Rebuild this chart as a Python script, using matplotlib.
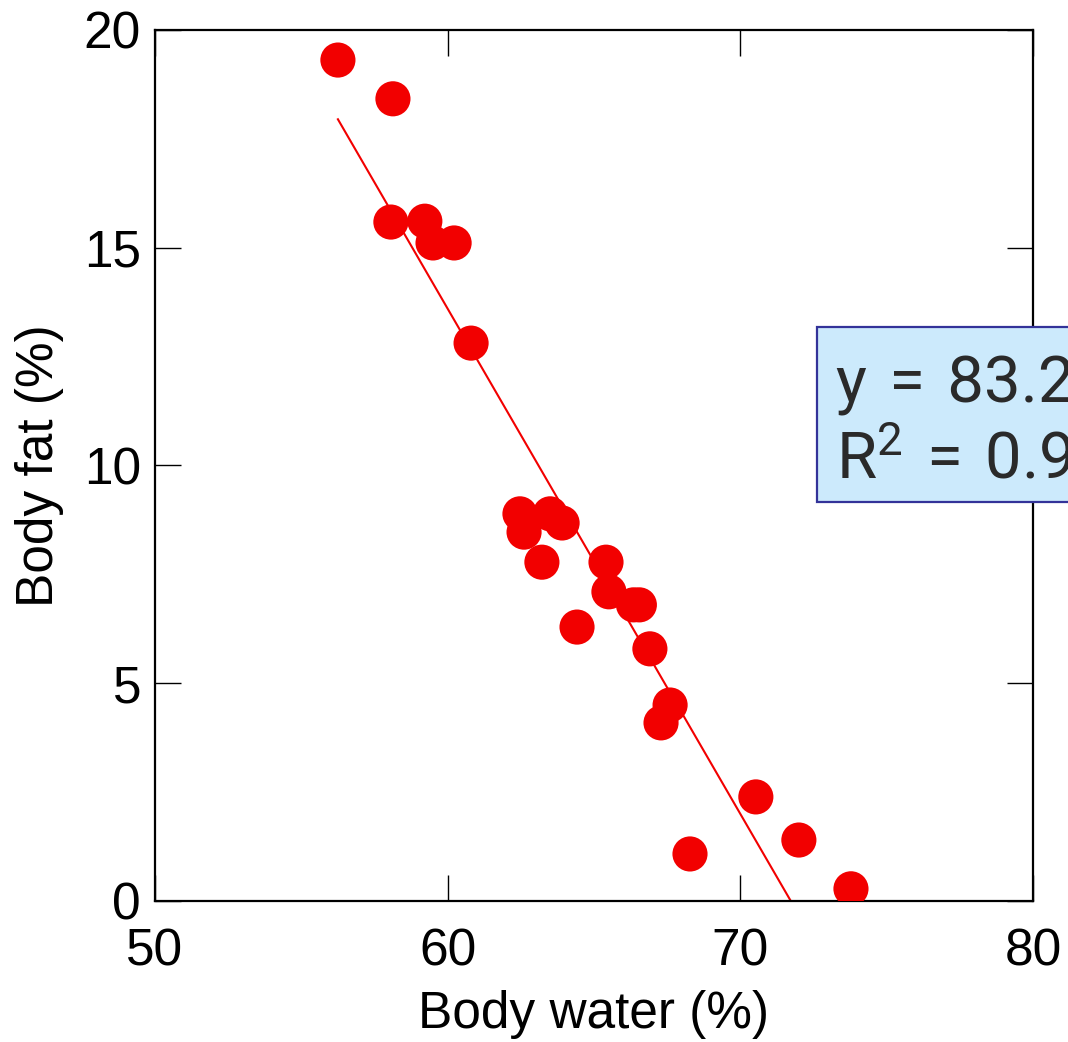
import numpy as np
import matplotlib
matplotlib.use("Agg")
import matplotlib.pyplot as plt
import matplotlib.patches as mpatches

# body water (%) vs body fat (%)
aWater = [56.25, 58.13, 58.06, 59.22, 59.50, 60.22, 60.80, 62.47, 62.61, 63.50,
          63.91, 63.22, 65.41, 65.51, 66.35, 66.55, 64.42, 66.91, 67.60, 67.29,
          70.53, 72.00, 68.28, 73.78]
aFat = [19.31, 18.42, 15.59, 15.61, 15.11, 15.11, 12.81, 8.89, 8.47, 8.89,
        8.68, 7.78, 7.78, 7.10, 6.80, 6.80, 6.29, 5.79, 4.50, 4.09,
        2.39, 1.40, 1.08, 0.28]

# linear fit y = a + b*x
dIntercept = 83.2
dSlope = -1.16
sSp = '\u2004'
sEquation = 'y' + sSp + '=' + sSp + '83.2' + sSp + '\u2212' + sSp + '1.16x'
sR2 = 'R$^2$' + sSp + '=' + sSp + '0.93'

aXticks = [50, 60, 70, 80]
aYticks = [0, 5, 10, 15, 20]

plt.rcParams['font.family'] = ['Liberation Sans', 'DejaVu Sans']
plt.rcParams['mathtext.fontset'] = 'custom'
plt.rcParams['mathtext.rm'] = 'Roboto'
plt.rcParams['mathtext.it'] = 'Roboto'

fig = plt.figure(figsize=(10.68, 10.42), dpi=100)
ax = fig.add_axes([155/1068, 141/1042, 878/1068, 871/1042])

ax.scatter(aWater, aFat, s=640, color='#f20000', edgecolors='none', zorder=3)

# regression line from the smallest x to where it crosses zero
dX0 = min(aWater)
dX1 = -dIntercept / dSlope
aLineX = np.array([dX0, dX1])
ax.plot(aLineX, dIntercept + dSlope * aLineX, color='#f20000', linewidth=1.5, zorder=2)

ax.set_xlim(50, 80)
ax.set_ylim(0, 20)
ax.set_xticks(aXticks)
ax.set_yticks(aYticks)
ax.tick_params(direction='in', length=19, width=1.0, labelsize=37, pad=10,
               top=True, right=True, colors='black')
ax.tick_params(axis='x', pad=19)
for sSide in ax.spines:
    ax.spines[sSide].set_linewidth(1.6)

ax.set_xlabel('Body water (%)', fontsize=37, labelpad=10)
ax.set_ylabel('Body fat (%)', fontsize=37, labelpad=14)

# equation box, clipped by the right edge of the figure
pBox = mpatches.Rectangle((817/1068, (1042-502)/1042), 0.4, 175/1042,
                          transform=fig.transFigure, facecolor='#cceafc',
                          edgecolor='#333399', linewidth=1.6, zorder=5)
fig.patches.append(pBox)
fig.text(836/1068, (1042-403)/1042, sEquation, fontsize=47, family=['Roboto', 'DejaVu Sans'],
         color='#2a2a2a', ha='left', va='baseline', zorder=6)
fig.text(836/1068, (1042-478)/1042, sR2, fontsize=47, family=['Roboto', 'DejaVu Sans'],
         color='#2a2a2a', ha='left', va='baseline', zorder=6)

plt.savefig('out.png', dpi=100)
plt.close(fig)
